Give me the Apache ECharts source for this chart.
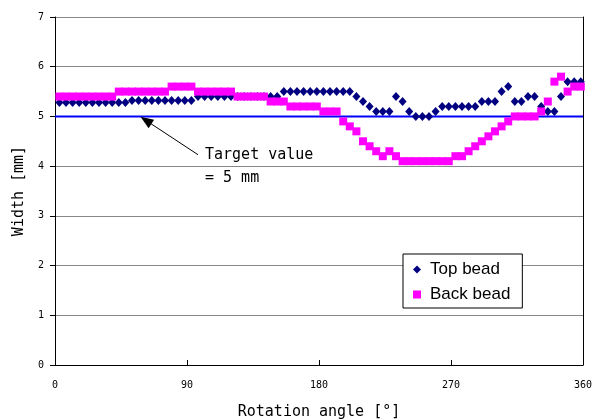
<!DOCTYPE html>
<html>
<head>
<meta charset="utf-8">
<script src="https://cdn.jsdelivr.net/npm/echarts@6/dist/echarts.min.js"></script>
<style>
html,body{margin:0;padding:0;background:#fff;}
#chart{width:596px;height:419px;}
</style>
</head>
<body>
<div id="chart"></div>
<script>
// rotation angle of each measuring point [deg]
var angles = [
    3, 7.5, 12, 16.5, 21, 25.5, 30, 34.5, 39, 43.5,
    48, 52.5, 57, 61.5, 66, 70.5, 75, 79.5, 84, 88.5,
    93, 97.5, 102, 106.5, 111, 115.5, 120, 124.5, 129, 133.5,
    138, 142.5, 147, 151.5, 156, 160.5, 165, 169.5, 174, 178.5,
    183, 187.5, 192, 196.5, 201, 205.5, 210, 214.5, 219, 223.5,
    228, 232.5, 237, 241.5, 246, 250.5, 255, 259.5, 264, 268.5,
    273, 277.5, 282, 286.5, 291, 295.5, 300, 304.5, 309, 313.5,
    318, 322.5, 327, 331.5, 336, 340.5, 345, 349.5, 354, 358.5
];
var topBead = [
    5.28, 5.28, 5.28, 5.28, 5.28, 5.28, 5.28, 5.28, 5.28, 5.28,
    5.28, 5.32, 5.32, 5.32, 5.32, 5.32, 5.32, 5.32, 5.32, 5.32,
    5.32, 5.4, 5.4, 5.4, 5.4, 5.4, 5.4, 5.4, 5.4, 5.4,
    5.4, 5.4, 5.4, 5.4, 5.5, 5.5, 5.5, 5.5, 5.5, 5.5,
    5.5, 5.5, 5.5, 5.5, 5.5, 5.4, 5.3, 5.2, 5.1, 5.1,
    5.1, 5.4, 5.3, 5.1, 5.0, 5.0, 5.0, 5.1, 5.2, 5.2,
    5.2, 5.2, 5.2, 5.2, 5.3, 5.3, 5.3, 5.5, 5.6, 5.3,
    5.3, 5.4, 5.4, 5.2, 5.1, 5.1, 5.4, 5.7, 5.7, 5.7
];
var backBead = [
    5.4, 5.4, 5.4, 5.4, 5.4, 5.4, 5.4, 5.4, 5.4, 5.5,
    5.5, 5.5, 5.5, 5.5, 5.5, 5.5, 5.5, 5.6, 5.6, 5.6,
    5.6, 5.5, 5.5, 5.5, 5.5, 5.5, 5.5, 5.4, 5.4, 5.4,
    5.4, 5.4, 5.3, 5.3, 5.3, 5.2, 5.2, 5.2, 5.2, 5.2,
    5.1, 5.1, 5.1, 4.9, 4.8, 4.7, 4.5, 4.4, 4.3, 4.2,
    4.3, 4.2, 4.1, 4.1, 4.1, 4.1, 4.1, 4.1, 4.1, 4.1,
    4.2, 4.2, 4.3, 4.4, 4.5, 4.6, 4.7, 4.8, 4.9, 5.0,
    5.0, 5.0, 5.0, 5.1, 5.3, 5.7, 5.8, 5.5, 5.6, 5.6
];
var target = 5;
var xTicks = [0, 90, 180, 270, 360];

function pairs(xs, ys) {
    return xs.map(function (x, i) { return [x, ys[i]]; });
}

var chart = echarts.init(document.getElementById('chart'));
var mono = '"DejaVu Sans Mono", monospace';

var option = {
    animation: false,
    backgroundColor: '#fff',
    grid: {left: 55, right: 13, top: 17, bottom: 54, outerBoundsMode: 'none'},
    legend: {
        orient: 'vertical',
        left: 403, top: 254,
        backgroundColor: '#fff',
        borderColor: '#000', borderWidth: 1,
        padding: [7, 12, 5, 10],
        itemGap: 8, itemWidth: 8, itemHeight: 8,
        textStyle: {fontSize: 17, color: '#000', fontFamily: '"Liberation Sans", Arial', padding: [0, 0, 0, 4]},
        data: [
            {name: 'Top bead', icon: 'diamond'},
            {name: 'Back bead', icon: 'rect'}
        ]
    },
    xAxis: {
        type: 'value', min: xTicks[0], max: xTicks[xTicks.length - 1], interval: 90,
        name: 'Rotation angle [°]', nameLocation: 'middle', nameGap: 40,
        nameTextStyle: {fontSize: 15, fontFamily: mono, color: '#000'},
        axisLine: {lineStyle: {color: '#000', width: 1}},
        axisTick: {inside: true, length: 5, lineStyle: {color: '#000'}},
        axisLabel: {fontSize: 10, fontFamily: mono, color: '#000', margin: 15},
        splitLine: {show: false}
    },
    yAxis: [{
        type: 'value', min: 0, max: 7, interval: 1,
        name: 'Width [mm]', nameLocation: 'middle', nameGap: 26, nameRotate: 90,
        nameTextStyle: {fontSize: 15, fontFamily: mono, color: '#000'},
        axisLine: {show: true, lineStyle: {color: '#000', width: 1}},
        axisTick: {show: true, length: 5, lineStyle: {color: '#000'}},
        axisLabel: {fontSize: 10, fontFamily: mono, color: '#000', margin: 11},
        splitLine: {show: true, lineStyle: {color: ['#888', '#888', '#888', '#888', '#888', '#000', '#888', '#888'], width: 1}}
    }, {
        type: 'value', min: 0, max: 7, interval: 1, position: 'right',
        axisLine: {show: true, lineStyle: {color: '#000', width: 1}},
        axisTick: {show: false}, axisLabel: {show: false}, splitLine: {show: false}
    }],
    series: [{
        name: 'Target', type: 'line', symbol: 'none', silent: true,
        data: [[xTicks[0], target], [xTicks[xTicks.length - 1], target]],
        lineStyle: {color: '#0000ff', width: 2},
        markLine: {
            silent: true, symbol: ['none', 'triangle'], symbolSize: [10, 13],
            lineStyle: {color: '#000', width: 1, type: 'solid'},
            label: {show: false},
            data: [[{coord: [97.5, 4.23]}, {coord: [62, 4.92]}]]
        },
        z: 1
    }, {
        name: 'Top bead', type: 'scatter', symbol: 'diamond', symbolSize: [8, 9],
        itemStyle: {color: '#000080', opacity: 1},
        data: pairs(angles, topBead), z: 2
    }, {
        name: 'Back bead', type: 'scatter', symbol: 'rect', symbolSize: 8,
        itemStyle: {color: '#ff00ff', opacity: 1},
        data: pairs(angles, backBead), z: 3
    }],
    graphic: [
        {type: 'text', left: 205, top: 148, style: {text: 'Target value', font: '15px ' + mono, fill: '#000'}},
        {type: 'text', left: 205, top: 171, style: {text: '= 5 mm', font: '15px ' + mono, fill: '#000'}}
    ]
};
chart.setOption(option);
</script>
</body>
</html>
